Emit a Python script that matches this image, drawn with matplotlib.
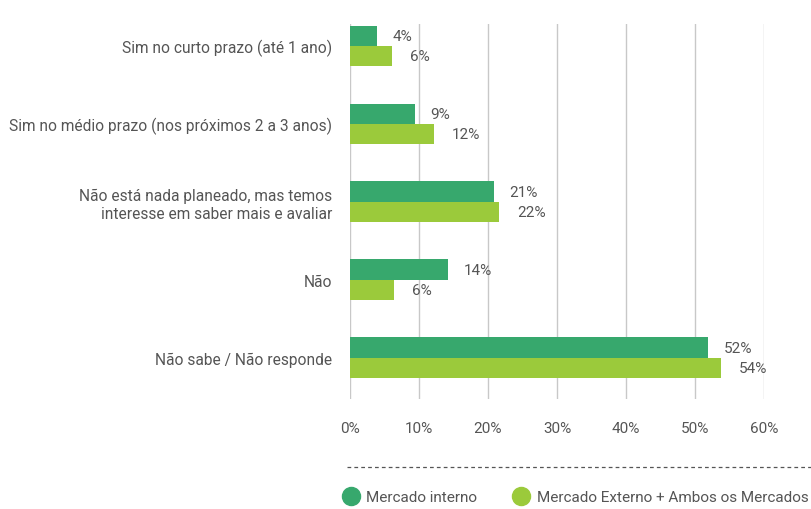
import matplotlib
matplotlib.use("Agg")
import matplotlib.pyplot as plt
from matplotlib.lines import Line2D
import numpy as np

plt.rcParams['font.family'] = ['Roboto', 'DejaVu Sans']

categories = [
    "Sim no curto prazo (até 1 ano)",
    "Sim no médio prazo (nos próximos 2 a 3 anos)",
    "Não está nada planeado, mas temos\ninteresse em saber mais e avaliar",
    "Não",
    "Não sabe / Não responde",
]
interno = [3.9, 9.4, 20.9, 14.2, 51.9]
externo = [6.1, 12.2, 21.6, 6.4, 53.8]
interno_labels = ["4%", "9%", "21%", "14%", "52%"]
externo_labels = ["6%", "12%", "22%", "6%", "54%"]
series_names = ["Mercado interno", "Mercado Externo + Ambos os Mercados"]
xticks = [0, 10, 20, 30, 40, 50, 60]

c_dark = "#37a86d"
c_light = "#9bca3b"
c_text = "#555555"

fig = plt.figure(figsize=(8.12, 5.10), dpi=100)
ax = fig.add_axes([350 / 812, 1 - 400 / 510, (764 - 350) / 812, 375 / 510])

y = np.arange(len(categories))
h = 0.26
ax.barh(y - h / 2, interno, height=h, color=c_dark, zorder=3)
ax.barh(y + h / 2, externo, height=h, color=c_light, zorder=3)

for yi, v, lab in zip(y, interno, interno_labels):
    ax.annotate(lab, (v, yi - h / 2), xytext=(11, 0), textcoords="offset points",
                va="center", ha="left", fontsize=11, color=c_text)
for yi, v, lab in zip(y, externo, externo_labels):
    ax.annotate(lab, (v, yi + h / 2), xytext=(13, 0), textcoords="offset points",
                va="center", ha="left", fontsize=11, color=c_text)

ax.set_xlim(0, 60)
ax.set_ylim(4.53, -0.28)
ax.set_xticks(xticks)
ax.set_xticklabels([f"{t}%" for t in xticks])
ax.set_yticks(y)
ax.set_yticklabels(categories, ha="right")
ax.tick_params(length=0, colors=c_text, labelsize=11.2)
ax.tick_params(axis="x", pad=16, labelsize=11)
ax.tick_params(axis="y", pad=13)
ax.grid(axis="x", color="#c8c8c8", linewidth=1, zorder=0)
for s in ax.spines.values():
    s.set_visible(False)

# dashed separator above legend
fig.add_artist(Line2D([347 / 812, 1.0], [1 - 468 / 510] * 2, transform=fig.transFigure,
                      color="#555555", linestyle=(0, (3, 2.5)), linewidth=0.9))

handles = [Line2D([], [], marker="o", linestyle="none", markersize=13, color=c)
           for c in (c_dark, c_light)]
fig.legend(handles, series_names, loc="center left", bbox_to_anchor=(328 / 812, 1 - 498 / 510),
           ncol=2, frameon=False, labelcolor=c_text, prop={"size": 11},
           handletextpad=0.4, columnspacing=2.3, handlelength=1.2)

fig.savefig("out.png", dpi=100)
